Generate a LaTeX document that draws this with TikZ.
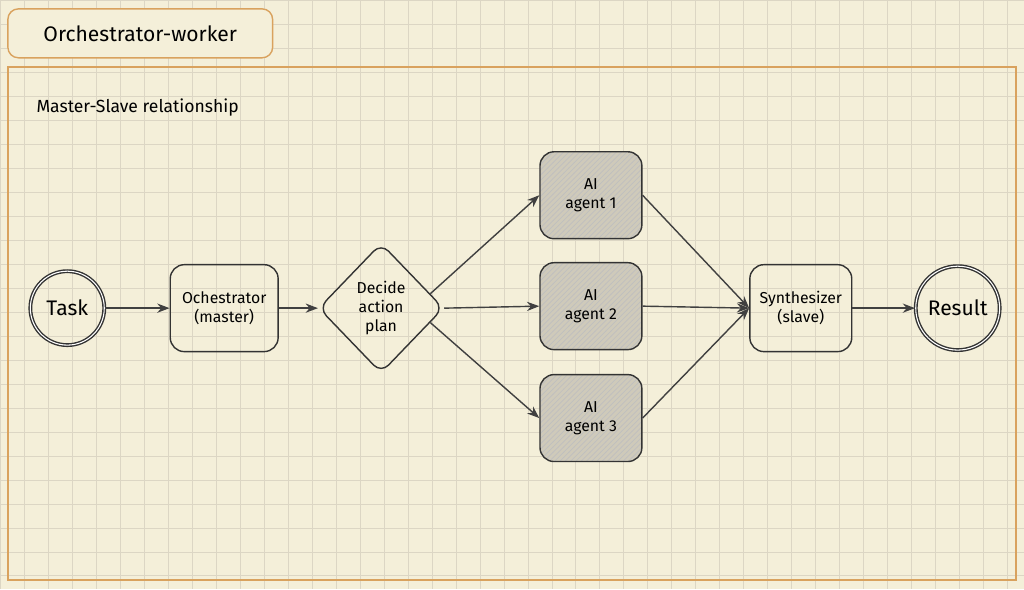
\documentclass[tikz,border=0pt]{standalone}
\usepackage{fontspec}
\setmainfont{Fira Sans}
\usetikzlibrary{positioning,shapes.geometric,arrows.meta,patterns,calc}
\definecolor{paper}{HTML}{F4EFD9}
\definecolor{gridc}{HTML}{DCD6C4}
\definecolor{frame}{HTML}{D9A25E}
\definecolor{agentc}{HTML}{CFCABA}
\tikzset{
  box/.style={draw=black!80, thick, rounded corners=8pt, minimum width=2.1cm, minimum height=1.74cm, align=center, font=\small},
  agent/.style={box, minimum width=2.04cm, fill=agentc, preaction={fill=agentc}, pattern=north east lines, pattern color=black!25},
  round/.style={draw=black!80, thick, circle, double, double distance=0.6pt, font=\large},
  flow/.style={-{Stealth[length=7pt]}, thick, black!75}
}
\begin{document}
\begin{tikzpicture}[x=0.02cm,y=-0.02cm]
  % paper and grid
  \fill[paper] (0,0) rectangle (1024,589);
  \draw[gridc, step=0.48cm] (0,0) grid (1024,589);
  \useasboundingbox (0,0) rectangle (1024,589);
  % title and frame
  \draw[frame, very thick] (8,67) rectangle (1016,580);
  \node[draw=frame, thick, fill=paper, rounded corners=6pt, minimum width=5.3cm, minimum height=0.98cm, font=\large] (title) at (140,33) {Orchestrator-worker};
  \node[anchor=west] (sub) at (30,107) {Master-Slave relationship};

  % nodes
  \node[round, minimum size=1.48cm] (task) at (67,308) {Task};
  \node[box, minimum width=2.16cm] (orch) at (224,308) {Ochestrator\\(master)};
  \node[diamond, draw=black!80, thick, rounded corners=6pt, minimum width=2.5cm, minimum height=2.6cm, align=center, font=\small, aspect=0.95, inner sep=0pt] (plan) at (381,308) {Decide\\action\\plan};
  \node[agent] (ag1) at (591,195) {AI\\agent 1};
  \node[agent] (ag2) at (591,306) {AI\\agent 2};
  \node[agent] (ag3) at (591,418) {AI\\agent 3};
  \node[box, minimum width=2.04cm] (synth) at (801,308) {Synthesizer\\(slave)};
  \node[round, minimum size=1.68cm] (res) at (958,308) {Result};

  % connectors
  \draw[flow] (task) -- (orch);
  \draw[flow] (orch) -- (plan);
  \draw[flow] ($(plan.east)!0.22!(plan.north)$) -- (ag1.west);
  \draw[flow] (plan.east) -- (ag2.west);
  \draw[flow] ($(plan.east)!0.22!(plan.south)$) -- (ag3.west);
  \draw[flow] (ag1.east) -- (synth.west);
  \draw[flow] (ag2.east) -- (synth.west);
  \draw[flow] (ag3.east) -- (synth.west);
  \draw[flow] (synth) -- (res);
\end{tikzpicture}
\end{document}
